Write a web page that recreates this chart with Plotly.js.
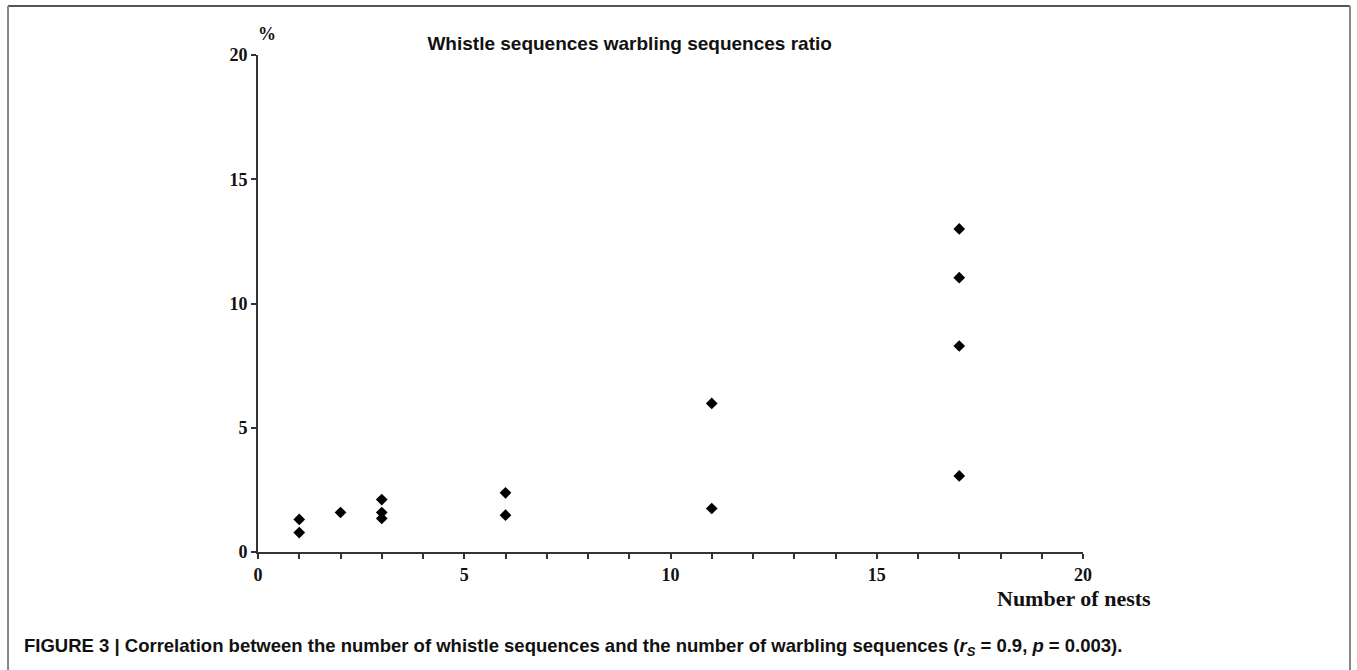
<!DOCTYPE html>
<html>
<head>
<meta charset="utf-8">
<script src="https://cdn.plot.ly/plotly-3.0.1.min.js"></script>
<style>
html,body{margin:0;padding:0;background:#fff;}
#chart{width:1357px;height:670px;}
</style>
</head>
<body>
<div id="chart"></div>
<script>
// Data
const nests = [1, 1, 2, 3, 3, 3, 6, 6, 11, 11, 17, 17, 17, 17];
const ratioPct = [1.31, 0.78, 1.59, 2.11, 1.59, 1.35, 2.38, 1.48, 5.98, 1.75, 13.0, 11.04, 8.29, 3.06];
const xTicks = [0, 5, 10, 15, 20];
const yTicks = [0, 5, 10, 15, 20];
const chartTitle = "Whistle sequences warbling sequences ratio";
const xLabel = "Number of nests";
const yLabel = "%";
const caption = "FIGURE 3 | Correlation between the number of whistle sequences and the number of warbling sequences (<i>r</i><sub><i>S</i></sub> = 0.9, <i>p</i> = 0.003).";

const serif = "Liberation Serif, Times New Roman, serif";
const sans = "Liberation Sans, Arial, sans-serif";
const axisColor = "#333333";

const trace = {
  x: nests,
  y: ratioPct,
  type: "scatter",
  mode: "markers",
  marker: {symbol: "diamond", size: 9, color: "#000000"},
  hoverinfo: "x+y"
};

const layout = {
  width: 1357,
  height: 670,
  margin: {l: 258, r: 274, t: 55, b: 118.3, pad: 0},
  paper_bgcolor: "#ffffff",
  plot_bgcolor: "#ffffff",
  showlegend: false,
  title: {
    text: "<b>" + chartTitle + "</b>",
    font: {family: sans, size: 19, color: "#111111"},
    xref: "container", yref: "container",
    x: 0.464, y: 0.936, xanchor: "center", yanchor: "middle"
  },
  xaxis: {
    range: [0, 20],
    tickvals: xTicks,
    ticktext: xTicks.map(v => "<b>" + v + "</b>"),
    ticks: "outside", ticklen: 5, tickwidth: 2, tickcolor: axisColor,
    minor: {dtick: 1, ticks: "outside", ticklen: 5, tickwidth: 2, tickcolor: axisColor, showgrid: false},
    showline: true, linecolor: axisColor, linewidth: 2,
    showgrid: false, zeroline: false,
    tickfont: {family: serif, size: 18, color: "#111111"},
    fixedrange: true
  },
  yaxis: {
    range: [0, 20],
    tickvals: yTicks,
    ticktext: yTicks.map(v => "<b>" + v + "</b>"),
    ticks: "outside", ticklen: 5, tickwidth: 2, tickcolor: axisColor,
    showline: true, linecolor: axisColor, linewidth: 2,
    showgrid: false, zeroline: false,
    tickfont: {family: serif, size: 18, color: "#111111"},
    fixedrange: true
  },
  annotations: [
    {text: "<b>" + yLabel + "</b>", xref: "paper", yref: "paper", x: 0.011, y: 1.042,
     xanchor: "center", yanchor: "middle", showarrow: false,
     font: {family: serif, size: 18, color: "#111111"}},
    {text: "<b>" + xLabel + "</b>", xref: "paper", yref: "paper", x: 0.989, y: -0.093,
     xanchor: "center", yanchor: "middle", showarrow: false,
     font: {family: serif, size: 22, color: "#111111"}},
    {text: "<b>" + caption + "</b>", xref: "paper", yref: "paper", x: -0.286, y: -0.192,
     xanchor: "left", yanchor: "middle", showarrow: false, align: "left",
     font: {family: sans, size: 18.5, color: "#111111"}}
  ],
  shapes: [
    {type: "line", xref: "paper", yref: "paper", x0: -0.303, x1: 1.3236, y0: 1.0987, y1: 1.0987,
     line: {color: "#555555", width: 2}},
    {type: "line", xref: "paper", yref: "paper", x0: -0.303, x1: -0.303, y0: 1.0987, y1: -0.25,
     line: {color: "#888888", width: 2}},
    {type: "line", xref: "paper", yref: "paper", x0: 1.3236, x1: 1.3236, y0: 1.0987, y1: -0.25,
     line: {color: "#888888", width: 2}}
  ]
};

Plotly.newPlot("chart", [trace], layout, {displayModeBar: false, staticPlot: true});
</script>
</body>
</html>
